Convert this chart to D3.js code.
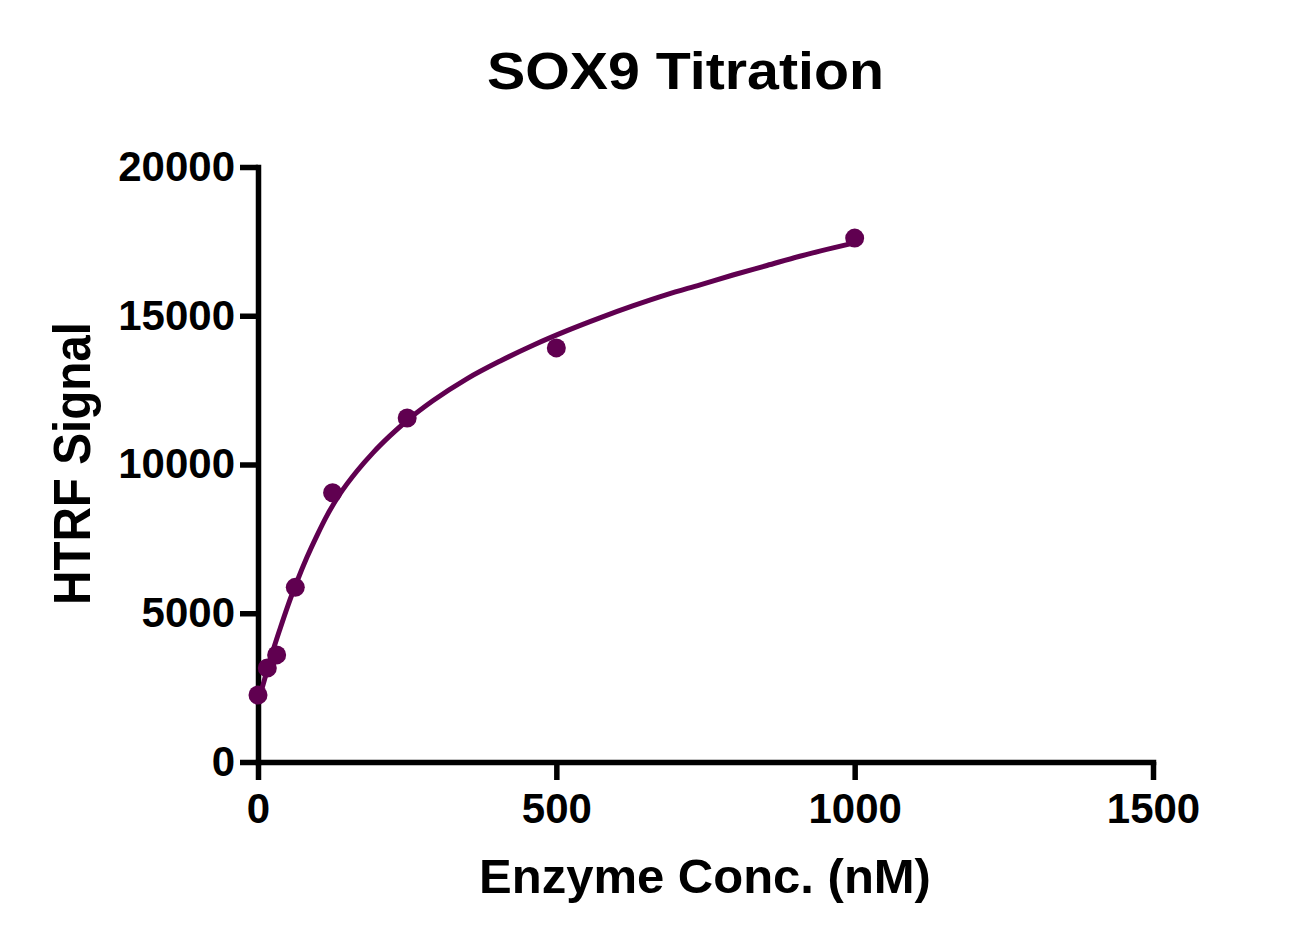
<!DOCTYPE html>
<html>
<head>
<meta charset="utf-8">
<script src="https://cdn.jsdelivr.net/npm/d3@7"></script>
<style>
  html, body { margin: 0; padding: 0; background: #ffffff; }
  svg { display: block; }
  text { font-family: "Liberation Sans", Arial, sans-serif; font-weight: bold; fill: #000; }
</style>
</head>
<body>
<svg id="chart" width="1289" height="946"></svg>
<script>
// ---- data ----
const titleText = "SOX9 Titration";
const xLabel = "Enzyme Conc. (nM)";
const yLabel = "HTRF Signal";
const xTicks = [0, 500, 1000, 1500];
const yTicks = [0, 5000, 10000, 15000, 20000];

// measured points
const concentration = [0, 15.625, 31.25, 62.5, 125, 250, 500, 1000];
const signal = [2250, 3160, 3600, 5870, 9050, 11560, 13920, 17610];

// fitted curve
const fitX = [0, 12, 23.5, 37, 50, 65, 82, 99, 116, 137, 166, 193, 221, 250, 293, 350, 406, 461, 518, 573, 628, 685, 741, 796, 853, 908, 964, 1000];
const fitY = [2000, 2850, 3640, 4480, 5250, 6050, 6880, 7620, 8300, 9000, 9780, 10400, 10960, 11480, 12140, 12880, 13480, 14010, 14500, 14930, 15330, 15710, 16040, 16370, 16690, 17000, 17280, 17450];

// ---- drawing ----
const color = "#600050";
const svg = d3.select("#chart");

const x = d3.scaleLinear().domain([0, 1500]).range([258, 1153]);
const y = d3.scaleLinear().domain([0, 20000]).range([762, 167]);

// axes
const yAxis = d3.axisLeft(y).tickValues(yTicks).tickSize(18).tickSizeOuter(0).tickPadding(5).tickFormat(d3.format("d"));
const xAxis = d3.axisBottom(x).tickValues(xTicks).tickSize(18).tickSizeOuter(0).tickPadding(13).tickFormat(d3.format("d"));

const gy = svg.append("g").attr("transform", `translate(${x(0)},0)`).call(yAxis);
const gx = svg.append("g").attr("transform", `translate(0,${y(0)})`).call(xAxis);

[gy, gx].forEach(g => {
  g.select(".domain").attr("stroke", "#000").attr("stroke-width", 5.5).attr("stroke-linecap", "square");
  g.selectAll(".tick line").attr("stroke", "#000").attr("stroke-width", 5.5);
  g.selectAll(".tick text")
    .attr("fill", "#000")
    .style("font-family", '"Liberation Sans", Arial, sans-serif')
    .style("font-weight", "bold");
});
gy.selectAll(".tick text").style("font-size", "42px");
gx.selectAll(".tick text").style("font-size", "42px");

// fitted curve
const fitData = fitX.map((d, i) => [d, fitY[i]]);
svg.append("path")
  .datum(fitData)
  .attr("fill", "none")
  .attr("stroke", color)
  .attr("stroke-width", 5)
  .attr("d", d3.line().x(d => x(d[0])).y(d => y(d[1])).curve(d3.curveMonotoneX));

// points
const pts = concentration.map((d, i) => [d, signal[i]]);
svg.append("g").selectAll("circle")
  .data(pts)
  .join("circle")
  .attr("cx", d => x(d[0]))
  .attr("cy", d => y(d[1]))
  .attr("r", 9.5)
  .attr("fill", color);

// title
svg.append("text")
  .attr("x", 685.5)
  .attr("y", 89)
  .attr("text-anchor", "middle")
  .attr("textLength", 397)
  .attr("lengthAdjust", "spacingAndGlyphs")
  .style("font-size", "51px")
  .text(titleText);

// x label
svg.append("text")
  .attr("x", 705)
  .attr("y", 893)
  .attr("text-anchor", "middle")
  .style("font-size", "49px")
  .text(xLabel);

// y label
svg.append("text")
  .attr("transform", "translate(90,463.5) rotate(-90)")
  .attr("text-anchor", "middle")
  .attr("textLength", 283)
  .attr("lengthAdjust", "spacingAndGlyphs")
  .style("font-size", "52px")
  .text(yLabel);
</script>
</body>
</html>
